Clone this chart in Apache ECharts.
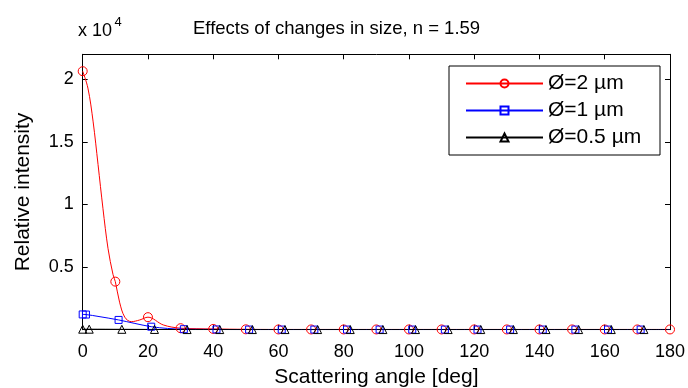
<!DOCTYPE html>
<html>
<head>
<meta charset="utf-8">
<script src="https://cdn.jsdelivr.net/npm/echarts@6/dist/echarts.min.js"></script>
<style>
html,body{margin:0;padding:0;background:#fff;}
#c{width:688px;height:388px;}
</style>
</head>
<body>
<div id="c"></div>
<script>
// Values in relative intensity units (x 10^4)
const seriesNames = ['Ø=2 µm', 'Ø=1 µm', 'Ø=0.5 µm'];
// Red curve (2 µm)
const redX = [0, 1.6, 3.2, 4.7, 6.2, 7.75, 9.3, 10, 11.3, 12.9, 14.9, 17.5, 20, 24.7, 30, 35, 40, 50, 60, 70, 80, 90, 100, 110, 120, 130, 140, 150, 160, 170, 180];
const redY = [2.065, 1.93, 1.66, 1.32, 0.97, 0.65, 0.44, 0.384, 0.22, 0.10, 0.064, 0.078, 0.100, 0.038, 0.012, 0.008, 0.006, 0.003, 0.002, 0.002, 0.002, 0.002, 0.002, 0.002, 0.002, 0.002, 0.002, 0.002, 0.002, 0.002, 0.002];
const redMarkX = [0, 10, 20, 30, 40, 50, 60, 70, 80, 90, 100, 110, 120, 130, 140, 150, 160, 170, 180];
// Blue curve (1 µm)
const blueX = [0, 1, 5, 11, 16, 21, 26, 31, 41, 51, 61, 71, 81, 91, 101, 111, 121, 131, 141, 151, 161, 171, 180];
const blueY = [0.122, 0.121, 0.105, 0.078, 0.050, 0.024, 0.010, 0.004, 0.002, 0.001, 0.001, 0.001, 0.001, 0.001, 0.001, 0.001, 0.001, 0.001, 0.001, 0.001, 0.001, 0.001, 0.001];
const blueMarkX = [0, 1, 11, 21, 31, 41, 51, 61, 71, 81, 91, 101, 111, 121, 131, 141, 151, 161, 171];
// Black curve (0.5 µm)
const blackX = [0, 2, 12, 22, 32, 42, 52, 62, 72, 82, 92, 102, 112, 122, 132, 142, 152, 162, 172, 180];
const blackY = [0.004, 0.004, 0.003, 0.002, 0.001, 0.001, 0.001, 0.001, 0.001, 0.001, 0.001, 0.001, 0.001, 0.001, 0.001, 0.001, 0.001, 0.001, 0.001, 0.001];
const blackMarkX = [0, 2, 12, 22, 32, 42, 52, 62, 72, 82, 92, 102, 112, 122, 132, 142, 152, 162, 172];

const xTicks = [0, 20, 40, 60, 80, 100, 120, 140, 160, 180];
const yTicks = [0.5, 1, 1.5, 2];

function build(xs, ys, marks) {
  return xs.map((x, i) => {
    const item = { value: [x, ys[i]] };
    if (marks.indexOf(x) < 0) item.symbol = 'none';
    return item;
  });
}

const FONT = 'Liberation Sans, Arial, Helvetica, sans-serif';
const chart = echarts.init(document.getElementById('c'), null, { renderer: 'canvas' });

function mkSeries(name, color, symbol, size, xs, ys, marks) {
  return {
    name: name,
    type: 'line',
    smooth: 0.35,
    showAllSymbol: true,
    symbol: symbol,
    symbolSize: size,
    data: build(xs, ys, marks),
    lineStyle: { color: color, width: 1 },
    itemStyle: { color: 'rgba(0,0,0,0)', borderColor: color, borderWidth: 1 },
    emphasis: { disabled: true },
    animation: false
  };
}

const axisCommon = {
  type: 'value',
  axisLine: { show: true, onZero: false, lineStyle: { color: '#000', width: 1 } },
  axisTick: { show: true, inside: true, length: 5, lineStyle: { color: '#000' } },
  splitLine: { show: false }
};

chart.setOption({
  animation: false,
  backgroundColor: '#fff',
  title: {
    text: 'Effects of changes in size, n = 1.59',
    left: 193, top: 19, padding: 0,
    textStyle: { fontFamily: FONT, fontSize: 18.5, fontWeight: 'normal', color: '#000' }
  },
  graphic: [
    { type: 'text', x: 78, y: 31.5,
      style: { text: 'x 10', fontFamily: FONT, fontSize: 18, fill: '#000', verticalAlign: 'middle', align: 'left' } },
    { type: 'text', x: 114.5, y: 22.5,
      style: { text: '4', fontFamily: FONT, fontSize: 13, fill: '#000', verticalAlign: 'middle', align: 'left' } }
  ],
  legend: {
    orient: 'vertical',
    left: 449, top: 66,
    backgroundColor: '#fff',
    borderColor: '#000', borderWidth: 1,
    padding: [7, 15, 7, 16],
    itemGap: 6,
    itemWidth: 77, itemHeight: 10,
    textStyle: { fontFamily: FONT, fontSize: 21, color: '#000', lineHeight: 21, width: 97 },
    data: seriesNames
  },
  grid: { left: 82.7, right: 18, top: 54.3, bottom: 58.3, containLabel: false, outerBoundsMode: 'none' },
  xAxis: [
    Object.assign({}, axisCommon, {
      position: 'bottom', min: 0, max: 180, interval: 20,
      name: 'Scattering angle [deg]', nameLocation: 'middle', nameGap: 37,
      nameTextStyle: { fontFamily: FONT, fontSize: 21, color: '#000' },
      axisLabel: { fontFamily: FONT, fontSize: 18, color: '#000', margin: 13,
        formatter: v => (xTicks.indexOf(v) >= 0 ? String(v) : '') }
    }),
    Object.assign({}, axisCommon, {
      position: 'top', min: 0, max: 180, interval: 20,
      axisLabel: { show: false }
    })
  ],
  yAxis: [
    Object.assign({}, axisCommon, {
      position: 'left', min: 0, max: 2.2, interval: 0.5,
      name: 'Relative intensity', nameLocation: 'middle', nameGap: 49,
      nameTextStyle: { fontFamily: FONT, fontSize: 21, color: '#000' },
      axisLabel: { fontFamily: FONT, fontSize: 18, color: '#000', margin: 9,
        showMinLabel: false, showMaxLabel: false,
        formatter: v => (yTicks.indexOf(v) >= 0 ? String(v) : '') }
    }),
    Object.assign({}, axisCommon, {
      position: 'right', min: 0, max: 2.2, interval: 0.5,
      axisLabel: { show: false }
    })
  ],
  series: [
    mkSeries(seriesNames[0], '#ff0000', 'circle', 9, redX, redY, redMarkX),
    mkSeries(seriesNames[1], '#0000ff', 'rect', 7, blueX, blueY, blueMarkX),
    mkSeries(seriesNames[2], '#000000', 'triangle', 8, blackX, blackY, blackMarkX)
  ]
});
</script>
</body>
</html>
